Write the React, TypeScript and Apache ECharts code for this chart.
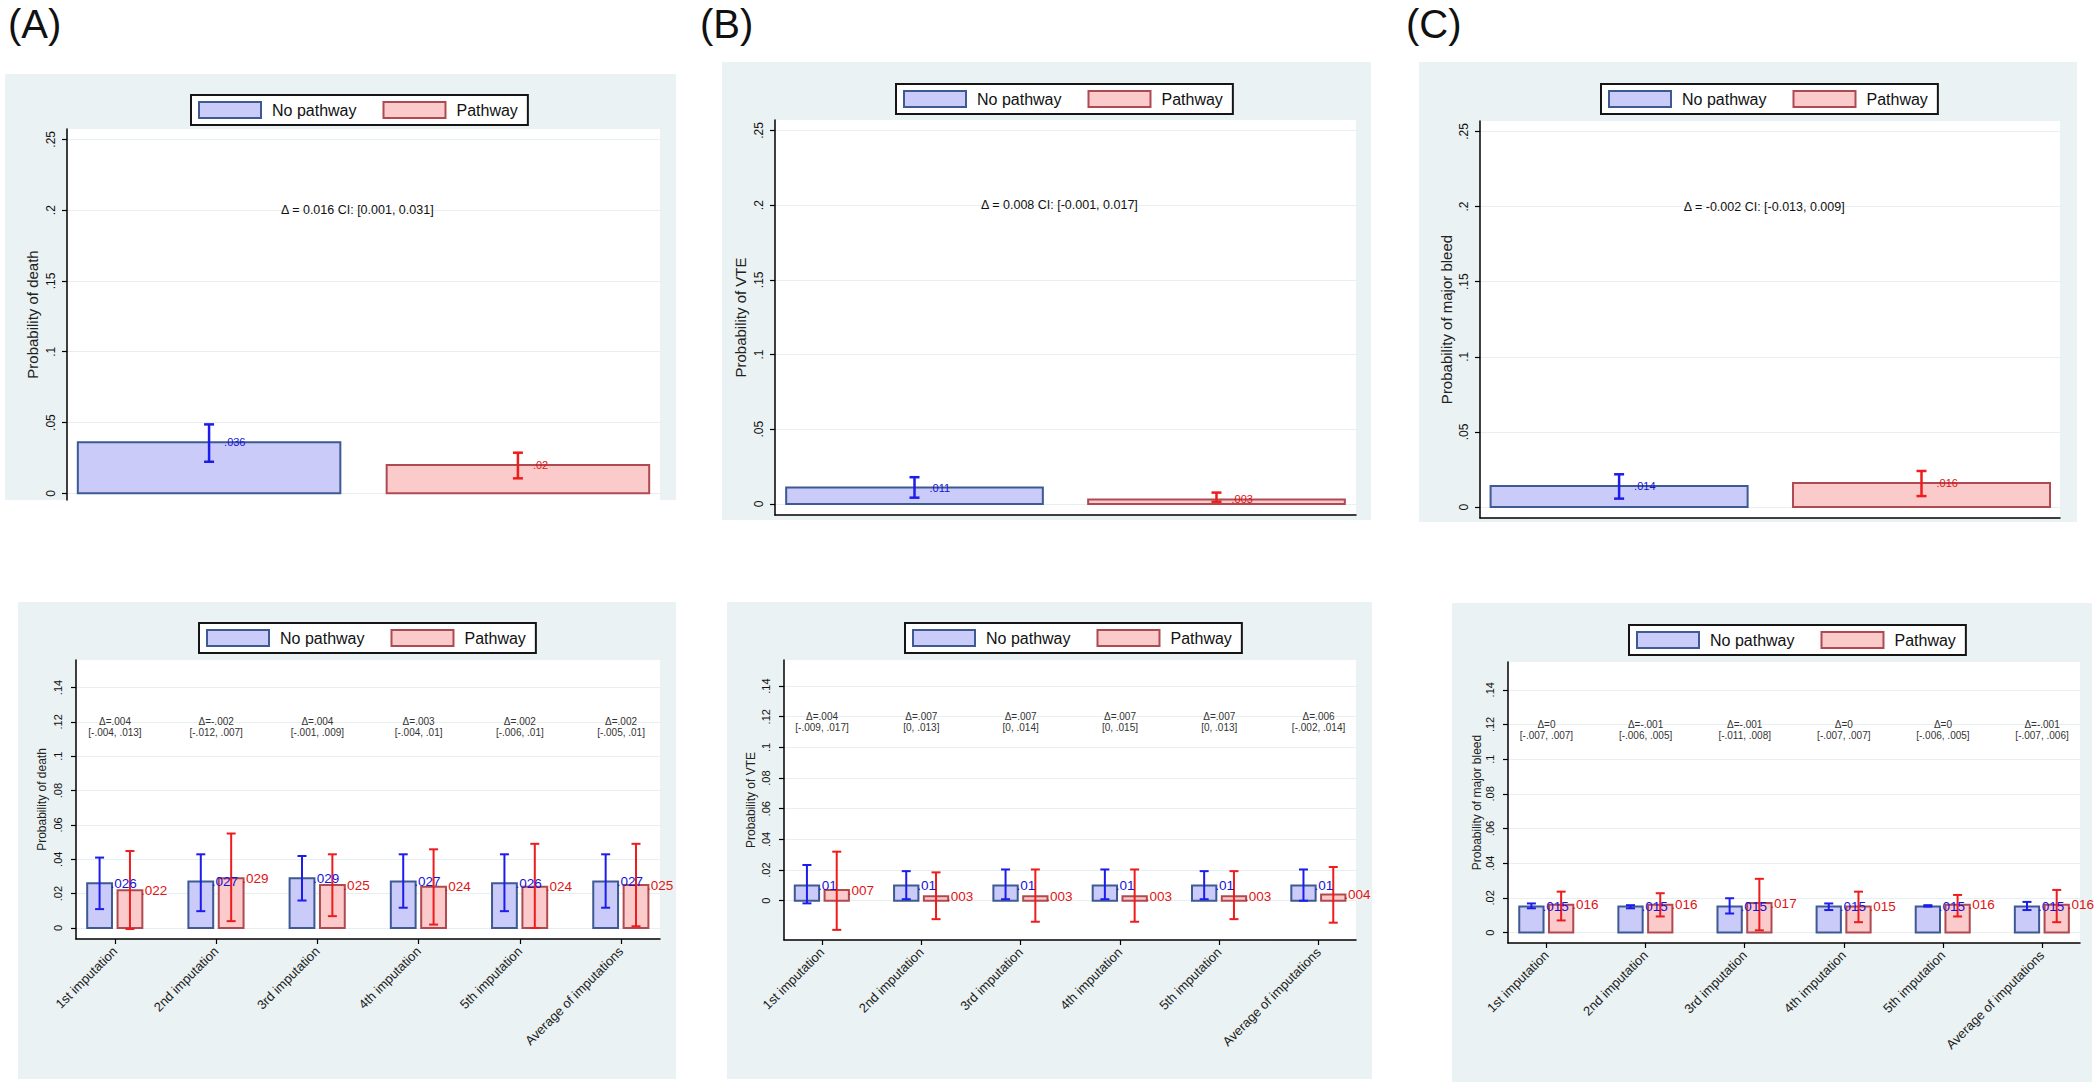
import React, { useEffect, useRef } from 'react';
import * as echarts from 'echarts';

// ---------- data ----------
const groupNames = ['No pathway', 'Pathway'];
const imputations = ['1st imputation', '2nd imputation', '3rd imputation', '4th imputation', '5th imputation', 'Average of imputations'];
const topTicks = [0, 0.05, 0.1, 0.15, 0.2, 0.25];
const bottomTicks = [0, 0.02, 0.04, 0.06, 0.08, 0.1, 0.12, 0.14];

// (A) death, complete model
const deathMean = [0.036, 0.02];
const deathLow = [0.0223, 0.0106];
const deathHigh = [0.0487, 0.0287];
const deathNote = 'Δ = 0.016 CI: [0.001, 0.031]';

// (B) VTE, complete model
const vteMean = [0.011, 0.003];
const vteLow = [0.0042, 0.0015];
const vteHigh = [0.0179, 0.0076];
const vteNote = 'Δ = 0.008 CI: [-0.001, 0.017]';

// (C) major bleed, complete model
const bleedMean = [0.014, 0.016];
const bleedLow = [0.0056, 0.0073];
const bleedHigh = [0.0218, 0.024];
const bleedNote = 'Δ = -0.002 CI: [-0.013, 0.009]';

// (A) death by imputation
const deathImpNo = [0.026, 0.027, 0.029, 0.027, 0.026, 0.027];
const deathImpNoLow = [0.011, 0.0098, 0.016, 0.0118, 0.0098, 0.0118];
const deathImpNoHigh = [0.041, 0.0429, 0.0419, 0.0429, 0.0429, 0.0429];
const deathImpPw = [0.022, 0.029, 0.025, 0.024, 0.024, 0.025];
const deathImpPwLow = [-0.0006, 0.004, 0.0069, 0.002, 0.0, 0.001];
const deathImpPwHigh = [0.0448, 0.055, 0.0429, 0.0458, 0.049, 0.049];
const deathImpDelta = ['Δ=.004', 'Δ=-.002', 'Δ=.004', 'Δ=.003', 'Δ=.002', 'Δ=.002'];
const deathImpCI = ['[-.004, .013]', '[-.012, .007]', '[-.001, .009]', '[-.004, .01]', '[-.006, .01]', '[-.005, .01]'];

// (B) VTE by imputation
const vteImpNo = [0.01, 0.01, 0.01, 0.01, 0.01, 0.01];
const vteImpNoLow = [-0.0017, 0.001, 0.001, 0.001, 0.001, 0.0];
const vteImpNoHigh = [0.0233, 0.0193, 0.0204, 0.0204, 0.0193, 0.0204];
const vteImpPw = [0.007, 0.003, 0.003, 0.003, 0.003, 0.004];
const vteImpPwLow = [-0.019, -0.012, -0.0137, -0.0137, -0.012, -0.0143];
const vteImpPwHigh = [0.032, 0.0185, 0.0204, 0.0204, 0.0193, 0.022];
const vteImpDelta = ['Δ=.004', 'Δ=.007', 'Δ=.007', 'Δ=.007', 'Δ=.007', 'Δ=.006'];
const vteImpCI = ['[-.009, .017]', '[0, .013]', '[0, .014]', '[0, .015]', '[0, .013]', '[-.002, .014]'];

// (C) major bleed by imputation
const bleedImpNo = [0.015, 0.015, 0.015, 0.015, 0.015, 0.015];
const bleedImpNoLow = [0.014, 0.014, 0.011, 0.013, 0.015, 0.013];
const bleedImpNoHigh = [0.0168, 0.0158, 0.0198, 0.0168, 0.0158, 0.0177];
const bleedImpPw = [0.016, 0.016, 0.017, 0.015, 0.016, 0.016];
const bleedImpPwLow = [0.007, 0.0093, 0.0013, 0.006, 0.0093, 0.006];
const bleedImpPwHigh = [0.0236, 0.0227, 0.031, 0.0236, 0.0217, 0.0246];
const bleedImpDelta = ['Δ=0', 'Δ=-.001', 'Δ=-.001', 'Δ=0', 'Δ=0', 'Δ=-.001'];
const bleedImpCI = ['[-.007, .007]', '[-.006, .005]', '[-.011, .008]', '[-.007, .007]', '[-.006, .005]', '[-.007, .006]'];

// ---------- styles ----------
const FONT = "'Liberation Sans', Arial, Helvetica, sans-serif";
const NP = { fill: '#cbcbf9', stroke: '#3d5a93', err: '#1c1ced', text: '#1414d8' };
const PW = { fill: '#fbcaca', stroke: '#b04a52', err: '#ee1c1c', text: '#e01414' };
const BG = '#eaf2f3';

const fmt = (v: number) => {
  if (Math.abs(v) < 1e-9) return '0';
  const s = String(+v.toFixed(3));
  return s.replace(/^0\./, '.').replace(/^-0\./, '-.');
};

type Layout = {
  left: number; top: number; width: number; height: number;
  yMin: number; yMax: number; xMin: number; xMax: number;
  legendLeft: number; legendTop: number;
  bg: number[]; nameGap: number; showX: boolean; tag?: string; tagX?: number;
};

const layouts: Layout[] = [
  { left: 67, top: 129, width: 593, height: 371, yMin: -0.0047, yMax: 0.2573, xMin: -0.46, xMax: 1.46, legendLeft: 191, legendTop: 95, bg: [5, 74, 671, 426], nameGap: 27, showX: false, tag: '(A)', tagX: 8 },
  { left: 775, top: 120, width: 581, height: 395, yMin: -0.0074, yMax: 0.257, xMin: -0.462, xMax: 1.462, legendLeft: 896, legendTop: 84, bg: [722, 62, 649, 458], nameGap: 27, showX: true, tag: '(B)', tagX: 700 },
  { left: 1480, top: 121, width: 580, height: 397, yMin: -0.0073, yMax: 0.257, xMin: -0.46, xMax: 1.458, legendLeft: 1601, legendTop: 84, bg: [1419, 62, 658, 460], nameGap: 26, showX: true, tag: '(C)', tagX: 1406 },
  { left: 76, top: 660, width: 584, height: 279, yMin: -0.0064, yMax: 0.156, xMin: -0.385, xMax: 5.385, legendLeft: 199, legendTop: 623, bg: [18, 602, 658, 477], nameGap: 28, showX: true },
  { left: 784, top: 660, width: 572, height: 280, yMin: -0.0256, yMax: 0.157, xMin: -0.383, xMax: 5.377, legendLeft: 905, legendTop: 623, bg: [727, 602, 645, 477], nameGap: 27, showX: true },
  { left: 1508, top: 662, width: 572, height: 281, yMin: -0.006, yMax: 0.156, xMin: -0.388, xMax: 5.383, legendLeft: 1629, legendTop: 625, bg: [1452, 603, 640, 479], nameGap: 25, showX: true },
];

type Grp = { name: string; pts: number[][]; offset: number; width: number; col: typeof NP };
type Panel = { title: string; ticks: number[]; cats: string[] | null; groups: Grp[]; notes: { x: number; y: number; text: string }[]; small: boolean };

function topPanel(title: string, mean: number[], low: number[], high: number[], note: string): Panel {
  return {
    title, ticks: topTicks, cats: null, small: false,
    groups: [0, 1].map((g) => ({ name: groupNames[g], pts: [[g, mean[g], low[g], high[g]]], offset: 0, width: 0.85, col: g === 0 ? NP : PW })),
    notes: [{ x: 0.48, y: 0.2, text: note }],
  };
}

function impPanel(title: string, nm: number[], nl: number[], nh: number[], pm: number[], pl: number[], ph: number[], delta: string[], ci: string[]): Panel {
  return {
    title, ticks: bottomTicks, cats: imputations, small: true,
    groups: [
      { name: groupNames[0], pts: nm.map((v, i) => [i, v, nl[i], nh[i]]), offset: -0.152, width: 0.245, col: NP },
      { name: groupNames[1], pts: pm.map((v, i) => [i, v, pl[i], ph[i]]), offset: 0.148, width: 0.245, col: PW },
    ],
    notes: imputations.map((_, i) => ({ x: i, y: 0.12, text: delta[i] + '\n' + ci[i] })),
  };
}

const panels: Panel[] = [
  topPanel('Probability of death', deathMean, deathLow, deathHigh, deathNote),
  topPanel('Probability of VTE', vteMean, vteLow, vteHigh, vteNote),
  topPanel('Probability of major bleed', bleedMean, bleedLow, bleedHigh, bleedNote),
  impPanel('Probability of death', deathImpNo, deathImpNoLow, deathImpNoHigh, deathImpPw, deathImpPwLow, deathImpPwHigh, deathImpDelta, deathImpCI),
  impPanel('Probability of VTE', vteImpNo, vteImpNoLow, vteImpNoHigh, vteImpPw, vteImpPwLow, vteImpPwHigh, vteImpDelta, vteImpCI),
  impPanel('Probability of major bleed', bleedImpNo, bleedImpNoLow, bleedImpNoHigh, bleedImpPw, bleedImpPwLow, bleedImpPwHigh, bleedImpDelta, bleedImpCI),
];

function buildOption() {
  const grid: any[] = [];
  const xAxis: any[] = [];
  const yAxis: any[] = [];
  const legend: any[] = [];
  const series: any[] = [];
  const graphic: any[] = [];

  panels.forEach((p, k) => {
    const L = layouts[k];
    graphic.push({ type: 'rect', z: -10, shape: { x: L.bg[0], y: L.bg[1], width: L.bg[2], height: L.bg[3] }, style: { fill: BG } });
    if (L.tag) {
      graphic.push({ type: 'text', x: L.tagX, y: 4, z: 10, style: { text: L.tag, fontSize: 40, fontFamily: FONT, fill: '#111', align: 'left', verticalAlign: 'top' } });
    }
    grid.push({ left: L.left, top: L.top, width: L.width, height: L.height, show: true, backgroundColor: '#ffffff', borderWidth: 0, containLabel: false, outerBoundsMode: 'none' });
    const catTicks = p.cats ? p.cats.map((_, i) => i) : [];
    xAxis.push({
      type: 'value', gridIndex: k, min: L.xMin, max: L.xMax,
      axisLine: { show: L.showX, onZero: false, lineStyle: { color: '#000', width: 1.5 } },
      axisTick: p.cats ? { show: true, customValues: catTicks, length: 5, lineStyle: { color: '#000', width: 1.2 } } : { show: false },
      axisLabel: p.cats
        ? { show: true, customValues: catTicks, formatter: (v: number) => p.cats![Math.round(v)], rotate: 45, fontSize: 13, color: '#222', margin: 10, fontFamily: FONT }
        : { show: false },
      splitLine: { show: false },
    });
    yAxis.push({
      type: 'value', gridIndex: k, min: L.yMin, max: L.yMax,
      name: p.title, nameLocation: 'middle', nameGap: L.nameGap,
      nameTextStyle: { fontSize: p.small ? 12 : 15, color: '#222', fontFamily: FONT },
      axisLine: { show: true, onZero: false, lineStyle: { color: '#000', width: 1.5 } },
      axisTick: { show: true, customValues: p.ticks, length: 5, lineStyle: { color: '#000', width: 1.2 } },
      axisLabel: { customValues: p.ticks, rotate: 90, formatter: fmt, fontSize: p.small ? 11 : 12, color: '#111', margin: p.small ? 13 : 10, fontFamily: FONT },
      splitLine: { show: true, lineStyle: { color: '#e8eff1', width: 1 } },
    });
    legend.push({
      left: L.legendLeft, top: L.legendTop, orient: 'horizontal', selectedMode: false,
      icon: 'rect', itemWidth: 62, itemHeight: 16, itemGap: 26, padding: [6, 10, 6, 7],
      borderColor: '#151515', borderWidth: 2, backgroundColor: '#fff',
      textStyle: { fontSize: 16, color: '#111', fontFamily: FONT, padding: [0, 0, 0, 6] },
      data: p.groups.map((g) => ({ name: g.name, itemStyle: { color: g.col.fill, borderColor: g.col.stroke, borderWidth: 2 } })),
    });

    const dx = p.small ? 11 : 15;
    const lblSize = p.small ? 13.5 : 11;
    const cap = p.small ? 9 : 10;
    const lw = p.small ? 2 : 2.5;
    p.groups.forEach((g) => {
      series.push({
        type: 'custom', name: g.name, xAxisIndex: k, yAxisIndex: k, silent: true,
        data: g.pts,
        encode: { x: 0, y: [1, 2, 3] },
        renderItem: (params: any, api: any) => {
          const i = api.value(0);
          const m = api.value(1);
          const lo = api.value(2);
          const hi = api.value(3);
          const cx = i + g.offset;
          const a = api.coord([cx - g.width / 2, 0]);
          const b = api.coord([cx + g.width / 2, m]);
          const c = api.coord([cx, m]);
          const pl = api.coord([cx, lo]);
          const ph = api.coord([cx, hi]);
          return {
            type: 'group',
            children: [
              { type: 'rect', z2: 0, shape: { x: a[0], y: Math.min(a[1], b[1]), width: b[0] - a[0], height: Math.abs(a[1] - b[1]) }, style: { fill: g.col.fill, stroke: g.col.stroke, lineWidth: 2 } },
              { type: 'line', z2: 5, shape: { x1: c[0], y1: pl[1], x2: c[0], y2: ph[1] }, style: { stroke: g.col.err, lineWidth: lw } },
              { type: 'line', z2: 5, shape: { x1: c[0] - cap / 2, y1: pl[1], x2: c[0] + cap / 2, y2: pl[1] }, style: { stroke: g.col.err, lineWidth: lw } },
              { type: 'line', z2: 5, shape: { x1: c[0] - cap / 2, y1: ph[1], x2: c[0] + cap / 2, y2: ph[1] }, style: { stroke: g.col.err, lineWidth: lw } },
              { type: 'text', z2: 10, x: c[0] + dx, y: c[1], style: { text: fmt(m), fill: g.col.text, fontSize: lblSize, fontFamily: FONT, align: 'left', verticalAlign: 'middle' } },
            ],
          };
        },
      });
    });

    series.push({
      type: 'custom', name: 'note' + k, xAxisIndex: k, yAxisIndex: k, silent: true,
      data: p.notes.map((n) => [n.x, n.y]),
      encode: { x: 0, y: 1 },
      renderItem: (params: any, api: any) => {
        const pt = api.coord([api.value(0), api.value(1)]);
        const n = p.notes[params.dataIndex];
        if (p.small) {
          return { type: 'text', z2: 10, x: pt[0], y: pt[1] - 5.5, style: { text: n.text, fill: '#333', fontSize: 10, lineHeight: 11, fontFamily: FONT, align: 'center', verticalAlign: 'top' } };
        }
        return { type: 'text', z2: 10, x: pt[0], y: pt[1], style: { text: n.text, fill: '#111', fontSize: 12.5, fontFamily: FONT, align: 'center', verticalAlign: 'middle' } };
      },
    });
  });

  return {
    animation: false,
    backgroundColor: '#ffffff',
    textStyle: { fontFamily: FONT },
    grid, xAxis, yAxis, legend, series, graphic,
  };
}

export default function App() {
  const ref = useRef<HTMLDivElement>(null);
  useEffect(() => {
    if (!ref.current) return;
    const chart = echarts.init(ref.current, undefined, { renderer: 'svg' });
    chart.setOption(buildOption() as any);
    return () => chart.dispose();
  }, []);
  return <div ref={ref} style={{ position: 'absolute', left: 0, top: 0, width: 2100, height: 1088 }} />;
}
